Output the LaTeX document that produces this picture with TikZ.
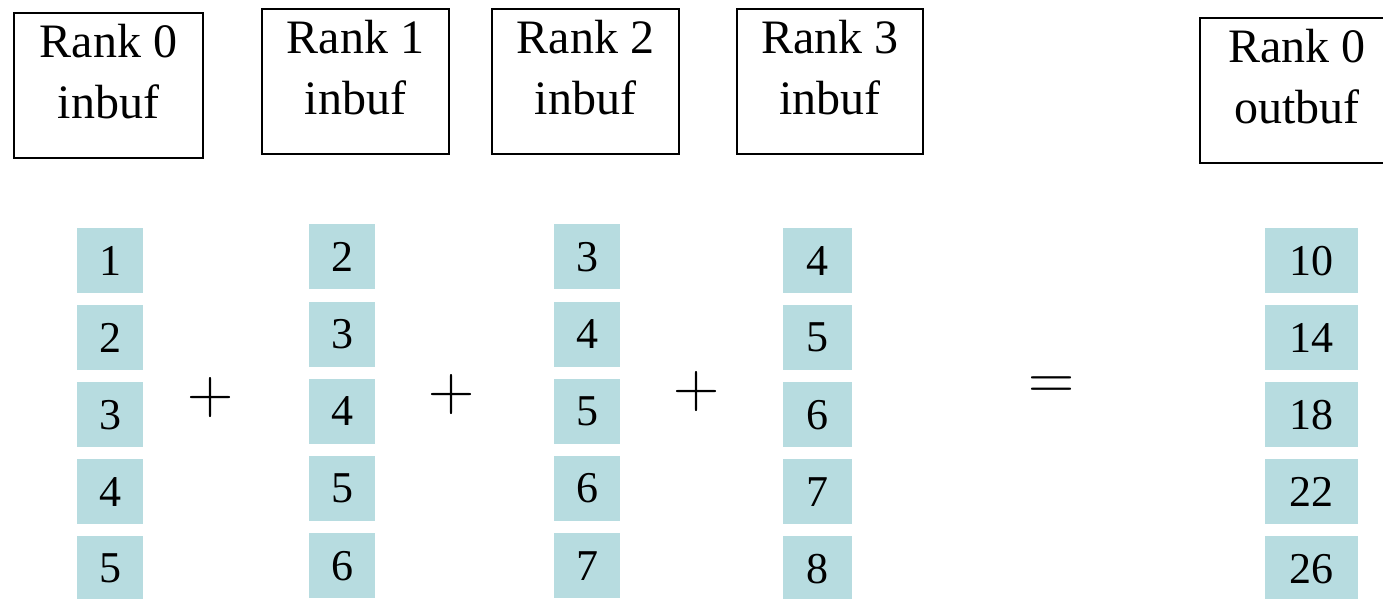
\documentclass[tikz,border=0pt]{standalone}
\usepackage{fontspec}
\setmainfont{Liberation Serif}
\newfontfamily\opfont{Latin Modern Roman}
\definecolor{cellblue}{RGB}{183,220,224}
\begin{document}
\begin{tikzpicture}[x=1pt,y=-1pt,
  bufbox/.style={draw=black, line width=2.2pt, fill=white, anchor=north west,
    inner sep=0pt, minimum width=#1, minimum height=145pt},
  buftext/.style={anchor=base, inner sep=0pt, font=\fontsize{48}{61}\selectfont},
  cell/.style={fill=cellblue, anchor=north, inner sep=0pt, minimum width=#1,
    minimum height=65pt, font=\fontsize{44}{44}\selectfont},
  op/.style={inner sep=0pt, font=\opfont\fontsize{64}{64}\selectfont}]
\useasboundingbox (0,0) rectangle (1383,598);
\clip (0,0) rectangle (1383,598);

% buffer headers
\node[bufbox=189pt] (b0) at (13,12) {};
\node[bufbox=187pt] (b1) at (261,8) {};
\node[bufbox=187pt] (b2) at (491,8) {};
\node[bufbox=186pt] (b3) at (736,8) {};
\node[bufbox=194pt] (bo) at (1199,17) {};

\node[buftext] (b0r) at ([yshift=-45pt]b0.north) {Rank 0};
\node[buftext] (b0i) at ([yshift=-106pt]b0.north) {inbuf};
\node[buftext] (b1r) at ([yshift=-45pt]b1.north) {Rank 1};
\node[buftext] (b1i) at ([yshift=-106pt]b1.north) {inbuf};
\node[buftext] (b2r) at ([yshift=-45pt]b2.north) {Rank 2};
\node[buftext] (b2i) at ([yshift=-106pt]b2.north) {inbuf};
\node[buftext] (b3r) at ([yshift=-45pt]b3.north) {Rank 3};
\node[buftext] (b3i) at ([yshift=-106pt]b3.north) {inbuf};
\node[buftext] (bor) at ([yshift=-45pt]bo.north) {Rank 0};
\node[buftext] (boi) at ([yshift=-106pt]bo.north) {outbuf};

% buffer contents
\foreach \v [count=\i] in {1,2,3,4,5}
  \node[cell=66pt] (ca\i) at (110, 228+77*\i-77) {\v};
\foreach \v [count=\i] in {2,3,4,5,6}
  \node[cell=66pt] (cb\i) at (342, 224+77.3*\i-77.3) {\v};
\foreach \v [count=\i] in {3,4,5,6,7}
  \node[cell=66pt] (cc\i) at (587, 224+77.3*\i-77.3) {\v};
\foreach \v [count=\i] in {4,5,6,7,8}
  \node[cell=69pt] (cd\i) at (817.5, 228+77*\i-77) {\v};
\foreach \v [count=\i] in {10,14,18,22,26}
  \node[cell=93pt] (co\i) at (1311.5, 228+77*\i-77) {\v};

% operators
\node[op] (p1) at (211,398) {+};
\node[op] (p2) at (452,395) {+};
\node[op] (p3) at (697,392) {+};
\node[op] (eq) at (1052,388) {=};
\end{tikzpicture}
\end{document}
